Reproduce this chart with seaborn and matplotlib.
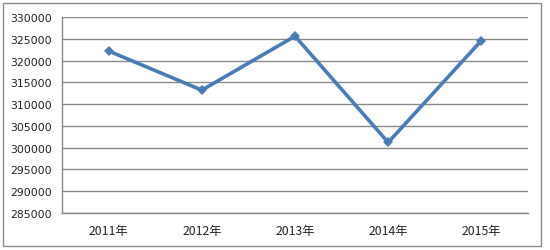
import matplotlib
matplotlib.use("Agg")
import matplotlib.pyplot as plt
import matplotlib.patches as mpatches
from matplotlib.ticker import FixedLocator, NullFormatter
import seaborn as sns
import pandas as pd

years = ["2011年", "2012年", "2013年", "2014年", "2015年"]
values = [322200, 313200, 325600, 301200, 324600]
y_ticks = [285000, 290000, 295000, 300000, 305000, 310000, 315000, 320000, 325000, 330000]

sns.set_theme(style="white")
plt.rcParams['font.family'] = ['Noto Sans CJK SC', 'DejaVu Sans']

df = pd.DataFrame({"year": years, "value": values})

fig = plt.figure(figsize=(5.5, 2.51), dpi=100)
fig.patch.set_facecolor("white")
ax = fig.add_axes([62/550, 1 - 214/251, (528 - 62)/550, (214 - 18)/251])

sns.lineplot(data=df, x="year", y="value", ax=ax, color="#4A7CB8", linewidth=2.6,
             marker="D", markersize=5, markeredgewidth=0, sort=False)

ax.set_xlim(-0.5, len(years) - 0.5)
ax.set_ylim(y_ticks[0], y_ticks[-1])
ax.set_yticks(y_ticks)
ax.set_yticklabels([str(v) for v in y_ticks], fontsize=7.8, color="#222222",
                   family=['DejaVu Sans'])
ax.set_xticks(range(len(years)))
ax.set_xticklabels(years, fontsize=8.8, color="#222222")
ax.xaxis.set_minor_locator(FixedLocator([i - 0.5 for i in range(len(years) + 1)]))
ax.xaxis.set_minor_formatter(NullFormatter())
ax.tick_params(axis="x", which="major", length=0, pad=8)
ax.tick_params(axis="x", which="minor", length=4, color="#868686", width=1, direction="out")
ax.tick_params(axis="y", length=4, color="#868686", width=1, direction="out", pad=3)
ax.set_xlabel("")
ax.set_ylabel("")

ax.grid(axis="y", color="#8a8a8a", linewidth=1)
ax.set_axisbelow(True)
for s in ["top", "right"]:
    ax.spines[s].set_visible(False)
for s in ["left", "bottom"]:
    ax.spines[s].set_color("#868686")
    ax.spines[s].set_linewidth(1)

border = mpatches.Rectangle((3/550, 4/251), (541 - 3)/550, (247 - 4)/251,
                            transform=fig.transFigure, fill=False,
                            edgecolor="#8c8c8c", linewidth=1)
fig.patches.append(border)

fig.savefig("out.png", dpi=100)
